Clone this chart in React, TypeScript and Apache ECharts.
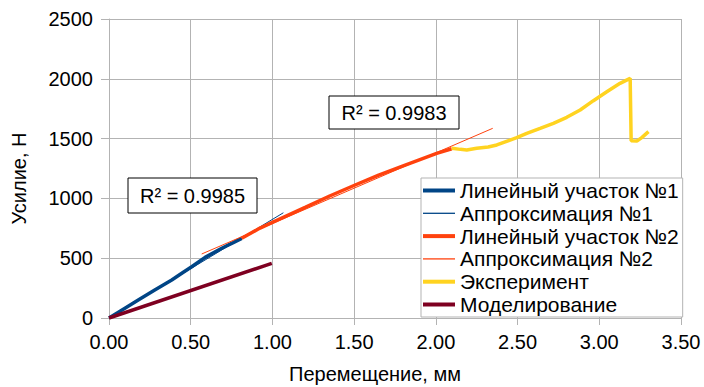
import React, { useEffect, useRef } from "react";
import * as echarts from "echarts";

const seriesNames = [
  "Линейный участок №1",
  "Аппроксимация №1",
  "Линейный участок №2",
  "Аппроксимация №2",
  "Эксперимент",
  "Моделирование",
];

const linear1: [number, number][] = [
  [0, 0], [0.05, 42], [0.1, 84], [0.179, 150], [0.28, 234], [0.384, 318],
  [0.45, 378], [0.506, 429], [0.588, 507], [0.69, 583], [0.76, 630], [0.812, 666],
];
const approx1: [number, number][] = [[0, 0], [1.067, 880]];
const linear2: [number, number][] = [
  [0.812, 666], [0.924, 752], [1.0, 800], [1.2, 925], [1.35, 1020], [1.506, 1112],
  [1.65, 1195], [1.8, 1272], [2.005, 1377], [2.097, 1415],
];
const approx2: [number, number][] = [[0.567, 535], [2.348, 1586]];
const experiment: [number, number][] = [
  [2.097, 1419], [2.15, 1410], [2.189, 1405], [2.25, 1419], [2.32, 1430], [2.373, 1447],
  [2.454, 1488], [2.495, 1508], [2.556, 1544], [2.638, 1586], [2.719, 1628],
  [2.801, 1678], [2.883, 1739], [2.964, 1817], [3.046, 1892], [3.127, 1962],
  [3.189, 2004], [3.195, 1483], [3.23, 1480], [3.26, 1508], [3.301, 1558],
];
const modeling: [number, number][] = [[0, 0], [0.996, 457]];

const r2Labels = ["R² = 0.9985", "R² = 0.9983"];

const xTicks = { min: 0, max: 3.5, interval: 0.5 };
const yTicks = { min: 0, max: 2500, interval: 500 };

const FONT = "Liberation Sans";
const FS = 20;
const GRAY = "#b3b3b3";
const THICK = "path://M0,0H32V4H0Z";
const THIN = "path://M0,0H32V1.3H0Z";

export default function App() {
  const ref = useRef<HTMLDivElement>(null);
  useEffect(() => {
    if (!ref.current) return;
    const chart = echarts.init(ref.current, undefined, { renderer: "svg" });
    const mk = (name: string, data: [number, number][], color: string, width: number) => ({
      name,
      type: "line",
      data,
      symbol: "none",
      showSymbol: false,
      lineStyle: { color, width },
      itemStyle: { color },
      silent: true,
    });
    const box = (text: string, x: number, y: number, w: number, h: number) => ({
      type: "group",
      x,
      y,
      z: 100,
      children: [
        { type: "rect", z: 100, shape: { x: 0, y: 0, width: w, height: h }, style: { fill: "#fff", stroke: "#000", lineWidth: 1 } },
        {
          type: "text",
          z: 101,
          x: w / 2,
          y: h / 2,
          style: { text, fill: "#000", font: `${FS}px "${FONT}"`, align: "center", verticalAlign: "middle" },
        },
      ],
    });
    chart.setOption({
      animation: false,
      backgroundColor: "#fff",
      textStyle: { fontFamily: FONT },
      grid: { left: 109, right: 23, top: 19, bottom: 69, containLabel: false, outerBoundsMode: "none" },
      xAxis: {
        type: "value",
        min: xTicks.min,
        max: xTicks.max,
        interval: xTicks.interval,
        name: "Перемещение, мм",
        nameLocation: "middle",
        nameGap: 46,
        nameTextStyle: { fontSize: FS, color: "#000", fontFamily: FONT, padding: [0, 40, 0, 0] },
        axisLine: { show: true, lineStyle: { color: GRAY } },
        axisTick: { show: true, length: 7, lineStyle: { color: GRAY } },
        axisLabel: { fontSize: FS, color: "#000", margin: 14, formatter: (v: number) => v.toFixed(2) },
        splitLine: { show: true, lineStyle: { color: GRAY, width: 1 } },
      },
      yAxis: {
        type: "value",
        min: yTicks.min,
        max: yTicks.max,
        interval: yTicks.interval,
        name: "Усилие, Н",
        nameLocation: "middle",
        nameGap: 80,
        nameTextStyle: { fontSize: FS, color: "#000", fontFamily: FONT, padding: [0, 20, 0, 0] },
        axisLine: { show: true, lineStyle: { color: GRAY } },
        axisTick: { show: true, length: 8, lineStyle: { color: GRAY } },
        axisLabel: { fontSize: FS, color: "#000", margin: 16, formatter: (v: number) => String(v) },
        splitLine: { show: true, lineStyle: { color: GRAY, width: 1 } },
      },
      legend: {
        orient: "vertical",
        left: 421,
        top: 178,
        padding: [2, 4, 2, 2],
        itemGap: 1.8,
        itemWidth: 32,
        itemHeight: 14,
        backgroundColor: "#fff",
        borderColor: GRAY,
        borderWidth: 1,
        textStyle: { fontSize: 21, color: "#000", fontFamily: FONT },
        data: seriesNames.map((name, i) => ({ name, icon: i === 1 || i === 3 ? THIN : THICK })),
      },
      series: [
        mk(seriesNames[0], linear1, "#004586", 3.5),
        mk(seriesNames[1], approx1, "#004586", 1),
        mk(seriesNames[2], linear2, "#ff420e", 3.5),
        mk(seriesNames[3], approx2, "#ff420e", 1),
        mk(seriesNames[4], experiment, "#ffd320", 3.5),
        mk(seriesNames[5], modeling, "#7e0021", 3.5),
      ],
      graphic: [box(r2Labels[0], 128, 178, 129, 35), box(r2Labels[1], 329, 96, 130, 33)],
    });
    return () => chart.dispose();
  }, []);
  return <div ref={ref} style={{ position: "fixed", left: 0, top: 0, width: 704, height: 387 }} />;
}
